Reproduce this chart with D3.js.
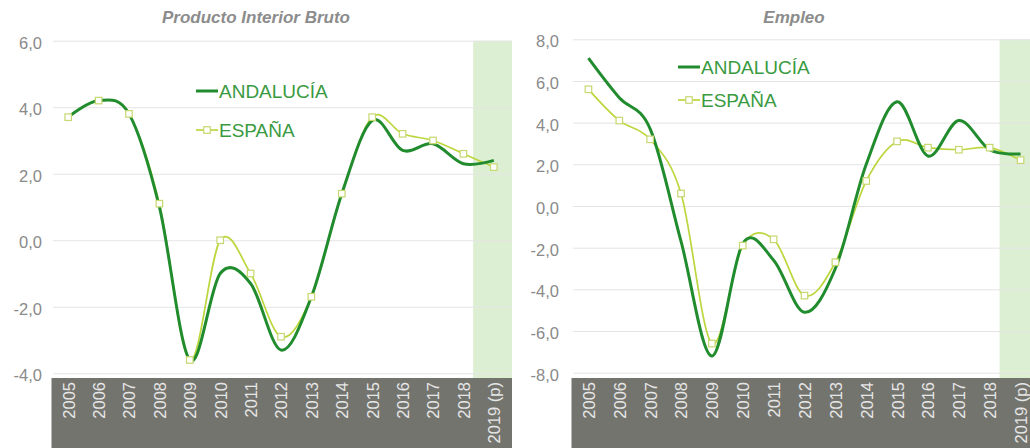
<!DOCTYPE html>
<html>
<head>
<meta charset="utf-8">
<script src="https://cdn.jsdelivr.net/npm/d3@7/dist/d3.min.js"></script>
<style>
  html, body { margin: 0; padding: 0; background: #ffffff; }
  svg { display: block; font-family: "Liberation Sans", Arial, sans-serif; }
</style>
</head>
<body>
<svg id="chart" width="1030" height="448"></svg>
<script>
// ---- DATA ----
const years = ["2005","2006","2007","2008","2009","2010","2011","2012","2013","2014","2015","2016","2017","2018","2019 (p)"];
const seriesNames = ["ANDALUCÍA", "ESPAÑA"];
const pibAndalucia = [3.7, 4.2, 3.8, 1.0, -3.6, -1.0, -1.3, -3.3, -1.7, 1.4, 3.6, 2.7, 2.9, 2.3, 2.4];
const pibEspana    = [3.7, 4.2, 3.8, 1.1, -3.6, 0.0, -1.0, -2.9, -1.7, 1.4, 3.7, 3.2, 3.0, 2.6, 2.2];
const empleoAndalucia = [7.1, 5.2, 3.7, -1.7, -7.2, -1.8, -2.6, -5.1, -3.0, 2.0, 5.0, 2.4, 4.1, 2.7, 2.5];
const empleoEspana    = [5.6, 4.1, 3.2, 0.6, -6.6, -1.9, -1.6, -4.3, -2.7, 1.2, 3.1, 2.8, 2.7, 2.8, 2.2];
const pibTicks = [-4, -2, 0, 2, 4, 6];
const empleoTicks = [-8, -6, -4, -2, 0, 2, 4, 6, 8];
const titles = ["Producto Interior Bruto", "Empleo"];

// ---- STYLE ----
const C = {
  andalucia: "#218c2e",
  espana: "#bcd63e",
  marker: "#c6d86e",
  grid: "#e4e4e4",
  band: "#74746f",
  shade: "#ddefd3",
  tickText: "#8a8a8a",
  xText: "#e6e6e6",
  title: "#8c8c8c",
  legend: "#3a9a3f"
};

const svg = d3.select("#chart");
const fmt = d => d3.format(".1f")(d).replace(".", ",").replace("\u2212", "-");

function drawChart(cfg) {
  const g = svg.append("g");
  const x = d3.scalePoint().domain(years).range([cfg.x0, cfg.x1]).padding(0.5);
  const step = x.step();
  const y = d3.scaleLinear().domain(cfg.domain).range([cfg.yBottom, cfg.yTop]);

  // shaded forecast region
  const lastX = x(years[years.length - 1]);
  g.append("rect")
    .attr("x", lastX - 0.68 * step)
    .attr("y", y(cfg.domain[1]))
    .attr("width", cfg.gridRight - (lastX - 0.68 * step))
    .attr("height", cfg.bandTop - y(cfg.domain[1]))
    .attr("fill", C.shade);

  // y axis with gridlines
  const yAxis = d3.axisLeft(y).tickValues(cfg.ticks).tickFormat(fmt)
    .tickSize(-(cfg.gridRight - cfg.x0)).tickPadding(cfg.labelGap);
  const ya = g.append("g").attr("transform", `translate(${cfg.x0},0)`).call(yAxis);
  ya.select(".domain").remove();
  ya.selectAll(".tick line").attr("stroke", C.grid).attr("stroke-width", 1);
  ya.selectAll(".tick text").attr("fill", C.tickText).attr("font-size", "16.5px")
    .attr("font-family", "Liberation Sans, Arial, sans-serif").attr("dy", "0.45em");

  // gray category band
  g.append("rect")
    .attr("x", cfg.x0 - 1.5).attr("y", cfg.bandTop)
    .attr("width", cfg.gridRight - cfg.x0 + 1.5).attr("height", 448 - cfg.bandTop)
    .attr("fill", C.band);

  // x axis labels
  const xAxis = d3.axisBottom(x).tickSize(0).tickPadding(0);
  const xa = g.append("g").attr("transform", `translate(0,${cfg.bandTop + 4})`).call(xAxis);
  xa.select(".domain").remove();
  xa.selectAll(".tick text")
    .attr("fill", C.xText).attr("font-size", "16.5px")
    .attr("font-family", "Liberation Sans, Arial, sans-serif")
    .attr("text-anchor", "end")
    .attr("transform", "rotate(-90)")
    .attr("x", 0).attr("y", 0).attr("dy", "0.36em");

  // lines
  const line = d3.line().x((d, i) => x(years[i])).y(d => y(d)).curve(d3.curveCardinal.tension(0));
  g.append("path").datum(cfg.esp).attr("d", line)
    .attr("fill", "none").attr("stroke", C.espana).attr("stroke-width", 1.7);
  g.append("path").datum(cfg.and).attr("d", line)
    .attr("fill", "none").attr("stroke", C.andalucia).attr("stroke-width", 3);
  const ms = 6.5;
  g.selectAll("rect.mk").data(cfg.esp).enter().append("rect").attr("class", "mk")
    .attr("x", (d, i) => x(years[i]) - ms / 2).attr("y", d => y(d) - ms / 2)
    .attr("width", ms).attr("height", ms)
    .attr("fill", "#ffffff").attr("stroke", C.marker).attr("stroke-width", 1.2);

  // title
  g.append("text").attr("x", cfg.titleX).attr("y", 23).attr("text-anchor", "middle")
    .attr("font-size", "17px").attr("font-weight", "bold").attr("font-style", "italic")
    .attr("fill", C.title).text(cfg.title);

  // legend
  const L = cfg.legend;
  const lg = g.append("g");
  lg.append("line").attr("x1", L.x).attr("x2", L.x + 22).attr("y1", L.y1).attr("y2", L.y1)
    .attr("stroke", C.andalucia).attr("stroke-width", 3);
  lg.append("text").attr("x", L.x + 23).attr("y", L.y1 + 6.5).attr("font-size", "19px")
    .attr("fill", C.legend).text(seriesNames[0]);
  lg.append("line").attr("x1", L.x).attr("x2", L.x + 22).attr("y1", L.y2).attr("y2", L.y2)
    .attr("stroke", C.espana).attr("stroke-width", 1.7);
  lg.append("rect").attr("x", L.x + 11 - ms / 2).attr("y", L.y2 - ms / 2).attr("width", ms).attr("height", ms)
    .attr("fill", "#fff").attr("stroke", C.marker).attr("stroke-width", 1.2);
  lg.append("text").attr("x", L.x + 23).attr("y", L.y2 + 6.5).attr("font-size", "19px")
    .attr("fill", C.legend).text(seriesNames[1]);
}

drawChart({
  x0: 53, x1: 509, gridRight: 512, yTop: 40.7, yBottom: 373.3, bandTop: 378,
  domain: [-4, 6], ticks: pibTicks, labelGap: 11, title: titles[0], titleX: 256,
  and: pibAndalucia, esp: pibEspana,
  legend: { x: 196, y1: 91, y2: 130 }
});
drawChart({
  x0: 573, x1: 1036, gridRight: 1036, yTop: 39.3, yBottom: 372.7, bandTop: 378,
  domain: [-8, 8], ticks: empleoTicks, labelGap: 14, title: titles[1], titleX: 794,
  and: empleoAndalucia, esp: empleoEspana,
  legend: { x: 678, y1: 67, y2: 100 }
});
</script>
</body>
</html>
